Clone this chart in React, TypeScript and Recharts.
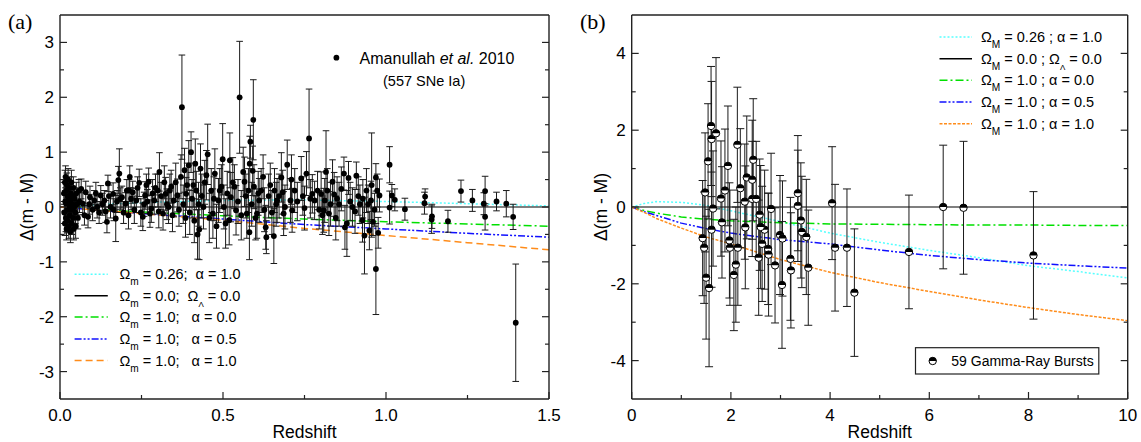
import React from "react";
import { ComposedChart, XAxis, YAxis, Line, Scatter, ErrorBar } from "recharts";

// panel (a): Amanullah et al. 2010 SNe Ia, [redshift, Δ(m - M), error]
const snData: [number, number, number][] = [
  [0.012, 0.25, 0.2], [0.013, -0.1, 0.2], [0.015, 0.45, 0.22], [0.015, -0.3, 0.22], [0.016, 0.1, 0.2],
  [0.017, 0.55, 0.2], [0.018, -0.2, 0.25], [0.019, 0.3, 0.2], [0.02, -0.4, 0.2], [0.02, 0.05, 0.18],
  [0.021, 0.4, 0.22], [0.022, -0.05, 0.2], [0.023, 0.2, 0.2], [0.024, -0.25, 0.22], [0.025, 0.5, 0.2],
  [0.026, 0.0, 0.2], [0.027, -0.35, 0.22], [0.028, 0.15, 0.2], [0.029, 0.35, 0.2], [0.03, -0.15, 0.2],
  [0.031, 0.1, 0.18], [0.032, -0.45, 0.2], [0.033, 0.25, 0.2], [0.034, -0.05, 0.2], [0.035, 0.45, 0.22],
  [0.036, -0.3, 0.2], [0.038, 0.05, 0.2], [0.039, 0.2, 0.18], [0.04, -0.2, 0.2], [0.041, 0.35, 0.2],
  [0.042, -0.4, 0.2], [0.044, 0.0, 0.2], [0.045, 0.15, 0.2], [0.047, -0.1, 0.2], [0.048, -0.35, 0.22],
  [0.05, 0.25, 0.2], [0.052, 0.05, 0.2], [0.055, -0.2, 0.2], [0.058, 0.3, 0.2], [0.06, 0.1, 0.2],
  [0.065, 0.33, 0.18], [0.07, 0.06, 0.2], [0.075, -0.15, 0.18], [0.079, 0.27, 0.2], [0.086, -0.18, 0.2],
  [0.09, 0.05, 0.18], [0.092, 0.18, 0.2], [0.1, -0.05, 0.2], [0.105, 0.12, 0.18], [0.11, 0.25, 0.2],
  [0.114, 0.0, 0.2], [0.12, -0.1, 0.2], [0.125, 0.21, 0.18], [0.13, 0.05, 0.2], [0.136, 0.12, 0.18],
  [0.14, -0.08, 0.2], [0.144, -0.27, 0.2], [0.147, 0.43, 0.15], [0.15, 0.2, 0.2], [0.155, 0.0, 0.2],
  [0.163, 0.24, 0.2], [0.165, -0.05, 0.2], [0.171, -0.21, 0.42], [0.175, 0.1, 0.2], [0.179, 0.49, 0.25],
  [0.182, 0.61, 0.45], [0.185, 0.15, 0.2], [0.19, 0.18, 0.2], [0.195, -0.1, 0.2], [0.201, 0.06, 0.2],
  [0.205, 0.3, 0.2], [0.21, -0.15, 0.25], [0.212, 0.3, 0.2], [0.214, 0.55, 0.2], [0.218, 0.15, 0.2],
  [0.223, 0.27, 0.2], [0.228, -0.05, 0.25], [0.234, 0.12, 0.22], [0.238, 0.35, 0.2], [0.243, 0.44, 0.25],
  [0.248, -0.1, 0.25], [0.254, -0.18, 0.25], [0.258, 0.05, 0.22], [0.261, 0.21, 0.25], [0.265, 0.4, 0.2],
  [0.268, 0.1, 0.22], [0.272, 0.46, 0.25], [0.276, -0.12, 0.25], [0.28, -0.03, 0.25], [0.284, 0.25, 0.25],
  [0.289, 0.12, 0.25], [0.293, 0.35, 0.25], [0.3, 0.3, 0.3], [0.303, -0.08, 0.3], [0.305, 0.64, 0.35],
  [0.31, 0.2, 0.25], [0.316, -0.12, 0.3], [0.32, 0.45, 0.3], [0.324, 0.24, 0.3], [0.328, 0.05, 0.28],
  [0.333, 0.0, 0.3], [0.337, 0.3, 0.3], [0.341, 0.37, 0.3], [0.345, -0.15, 0.3], [0.349, 0.12, 0.3],
  [0.355, 0.45, 0.35], [0.36, 0.21, 0.3], [0.365, -0.05, 0.3],
  [0.371, 0.55, 0.4], [0.374, 1.82, 0.95], [0.378, 0.05, 0.35], [0.382, 0.67, 0.4], [0.385, -0.2, 0.35],
  [0.387, 0.24, 0.3], [0.39, 0.4, 0.4], [0.395, 0.76, 0.45], [0.398, -0.1, 0.4], [0.402, 1.0, 0.37],
  [0.405, 0.15, 0.35], [0.409, 0.4, 0.4], [0.412, -0.25, 0.4], [0.415, 0.79, 0.45], [0.418, 0.3, 0.35],
  [0.422, -0.5, 0.45], [0.425, 0.05, 0.4], [0.427, -0.41, 0.55], [0.431, 0.7, 0.45], [0.435, 0.2, 0.4],
  [0.44, 0.0, 0.4], [0.444, 0.45, 0.4], [0.449, 0.58, 0.45], [0.453, 0.96, 0.55], [0.458, -0.2, 0.45],
  [0.464, 0.3, 0.4], [0.469, -0.12, 0.45], [0.472, 0.15, 0.4], [0.475, 0.61, 0.45], [0.48, -0.35, 0.4],
  [0.486, 0.12, 0.4], [0.49, 0.3, 0.4], [0.495, 0.37, 0.4], [0.499, 0.87, 0.65], [0.503, 0.0, 0.4],
  [0.508, -0.3, 0.45], [0.513, 0.25, 0.4], [0.519, -0.24, 0.45], [0.521, 0.85, 0.5], [0.524, 0.18, 0.45],
  [0.53, 0.45, 0.45], [0.535, 0.37, 0.4], [0.54, -0.06, 0.45], [0.546, 0.1, 0.4], [0.551, 2.0, 1.02],
  [0.556, -0.15, 0.45], [0.562, 0.64, 0.45], [0.566, 0.46, 0.45], [0.57, 0.2, 0.4], [0.573, -0.12, 0.45],
  [0.578, 0.3, 0.4], [0.581, -0.46, 0.5], [0.582, 0.79, 0.5], [0.584, 1.19, 0.3], [0.588, 0.05, 0.4],
  [0.591, 0.66, 0.45], [0.593, 1.59, 0.73], [0.595, 0.37, 0.4], [0.6, -0.2, 0.4], [0.604, -0.12, 0.45],
  [0.608, 0.25, 0.4], [0.611, 0.12, 0.4], [0.617, 0.3, 0.4], [0.623, 0.55, 0.4], [0.627, -0.05, 0.4],
  [0.631, -0.37, 0.4], [0.633, -0.55, 0.3], [0.64, 0.2, 0.4], [0.645, 0.4, 0.4], [0.65, -0.1, 0.4],
  [0.656, -0.53, 0.5], [0.658, 0.3, 0.4], [0.663, 0.05, 0.4], [0.666, 0.12, 0.4], [0.672, 0.2, 0.4],
  [0.679, 0.54, 0.45], [0.683, 0.27, 0.4], [0.686, -0.12, 0.4], [0.69, 0.0, 0.4], [0.697, 0.77, 0.45],
  [0.707, 0.12, 0.4], [0.71, 0.5, 0.45], [0.712, -0.06, 0.4], [0.72, 0.3, 0.4], [0.728, 0.1, 0.35],
  [0.74, 0.52, 0.4], [0.745, 0.2, 0.35], [0.75, -0.02, 0.4], [0.756, 0.61, 0.4], [0.764, 1.25, 0.9],
  [0.768, 0.15, 0.35], [0.774, 0.24, 0.35], [0.781, 0.12, 0.35], [0.79, 0.3, 0.35], [0.795, -0.05, 0.35],
  [0.801, 0.24, 0.4], [0.805, -0.15, 0.35], [0.809, -0.06, 0.4], [0.812, 0.12, 0.4], [0.816, 0.64, 0.75],
  [0.82, 0.3, 0.4], [0.825, -0.12, 0.4], [0.83, 0.05, 0.4], [0.836, 0.46, 0.4], [0.841, 0.23, 0.4],
  [0.846, -0.2, 0.4], [0.85, 0.15, 0.4], [0.856, 0.05, 0.4], [0.863, 0.33, 0.4], [0.871, 0.61, 0.3],
  [0.874, -0.37, 0.4], [0.88, -0.3, 0.6], [0.885, 0.53, 0.3], [0.89, 0.1, 0.35], [0.897, 0.0, 0.35],
  [0.905, -0.08, 0.4], [0.909, 0.57, 0.25], [0.915, 0.2, 0.35], [0.92, 0.05, 0.35], [0.928, -0.24, 0.4],
  [0.929, 0.15, 0.35], [0.934, -0.52, 0.7], [0.94, 0.3, 0.4], [0.945, 0.05, 0.35], [0.949, -0.43, 0.35],
  [0.954, 0.12, 0.35], [0.956, 0.4, 0.95], [0.96, -0.27, 0.25], [0.965, -0.05, 0.3], [0.969, 0.54, 0.25],
  [0.969, -1.13, 0.83], [0.973, 0.3, 0.3], [0.976, -0.47, 0.28], [0.98, 0.21, 0.3],
  [1.011, -0.01, 0.3], [1.011, 0.77, 0.33], [1.018, 0.21, 0.2], [1.027, 0.13, 0.2], [1.058, -0.04, 0.2],
  [1.118, 0.07, 0.2], [1.12, 0.19, 0.14], [1.14, -0.23, 0.25], [1.141, -0.17, 0.22], [1.19, -0.26, 0.2],
  [1.23, 0.29, 0.2], [1.265, 0.12, 0.2], [1.3, 0.06, 0.2], [1.304, 0.29, 0.27], [1.304, -0.18, 0.24],
  [1.339, 0.1, 0.17], [1.369, 0.06, 0.24], [1.39, -0.18, 0.23], [1.398, -2.11, 1.07],
];

// panel (b): 59 gamma-ray bursts, [redshift, Δ(m - M), error]
const grbData: [number, number, number][] = [
  [1.43, -0.81, 1.5], [1.48, 0.38, 1.55], [1.46, -1.06, 1.45], [1.5, -1.84, 1.6], [1.54, 1.19, 1.5],
  [1.56, -2.11, 2.05], [1.6, 2.11, 1.55], [1.61, 1.77, 1.5], [1.61, -0.59, 1.5], [1.64, -0.04, 1.5],
  [1.7, 1.92, 1.97], [1.8, 0.22, 1.5], [1.82, -0.4, 1.45], [1.88, 0.43, 1.6], [1.94, 1.07, 1.56],
  [1.97, -0.87, 1.5], [1.98, -1.06, 1.5], [2.06, -1.77, 1.45], [2.1, -1.5, 1.5], [2.13, 1.62, 1.5],
  [2.14, -1.06, 1.5], [2.19, 0.49, 1.55], [2.29, -0.53, 1.6], [2.28, 0.14, 1.5], [2.32, 0.77, 1.6],
  [2.43, 0.71, 1.55], [2.45, 1.23, 1.59], [2.43, 0.21, 1.5], [2.51, 0.21, 1.5], [2.58, -0.2, 1.45],
  [2.56, -1.32, 1.5], [2.63, -0.96, 1.5], [2.68, -0.59, 1.55], [2.6, -0.52, 1.6], [2.75, -1.09, 1.45],
  [2.76, -1.24, 1.6], [2.81, -0.05, 1.45], [2.89, -1.52, 1.5], [2.99, -0.73, 1.55], [3.04, -0.82, 1.5],
  [3.03, -2.03, 1.65], [3.2, -1.35, 1.6], [3.21, -1.65, 1.5], [3.35, 0.36, 1.5], [3.35, 0.03, 1.45],
  [3.41, -0.35, 1.5], [3.43, -0.65, 1.45], [3.52, -0.78, 1.5], [3.56, -1.58, 1.5], [4.04, 0.1, 1.47],
  [4.1, -1.06, 1.65], [4.34, -1.06, 1.53], [4.49, -2.23, 1.66], [5.59, -1.17, 1.48], [6.28, 0.0, 1.61],
  [6.69, -0.02, 1.73], [8.1, -1.26, 1.66],
];

// model curves, panel (a)
const zA = [0, 0.1, 0.25, 0.5, 0.75, 1.0, 1.25, 1.5];
const aCyan = [0, 0.04, 0.08, 0.12, 0.13, 0.1, 0.06, 0.02];
const aFlat = [0, 0, 0, 0, 0, 0, 0, 0];
const aGreen = [0, -0.04, -0.09, -0.16, -0.22, -0.27, -0.31, -0.35];
const aBlue = [0, -0.05, -0.12, -0.22, -0.32, -0.4, -0.48, -0.55];
const aOrange = [0, -0.05, -0.12, -0.24, -0.39, -0.52, -0.65, -0.78];

// model curves, panel (b)
const zB = [0, 0.25, 0.5, 1, 1.5, 2, 3, 4, 5, 6, 7, 8, 9, 10];
const bCyan = [0, 0.09, 0.14, 0.12, 0.04, -0.1, -0.38, -0.68, -0.92, -1.13, -1.32, -1.53, -1.68, -1.85];
const bFlat = [0, 0, 0, 0, 0, 0, 0, 0, 0, 0, 0, 0, 0, 0];
const bGreen = [0, -0.09, -0.16, -0.26, -0.32, -0.36, -0.41, -0.44, -0.45, -0.46, -0.47, -0.47, -0.48, -0.48];
const bBlue = [0, -0.12, -0.22, -0.42, -0.56, -0.68, -0.85, -0.96, -1.12, -1.26, -1.37, -1.46, -1.53, -1.59];
const bOrange = [0, -0.14, -0.3, -0.55, -0.78, -0.96, -1.37, -1.7, -1.97, -2.2, -2.42, -2.62, -2.8, -2.96];

// axis ticks
const aXTicks = [0, 0.25, 0.5, 0.75, 1.0, 1.25, 1.5];
const aXMajor = [0, 0.5, 1.0, 1.5];
const aYTicks = [-3, -2.5, -2, -1.5, -1, -0.5, 0, 0.5, 1, 1.5, 2, 2.5, 3];
const aYMajor = [-3, -2, -1, 0, 1, 2, 3];
const bXTicks = [0, 1, 2, 3, 4, 5, 6, 7, 8, 9, 10];
const bXMajor = [0, 2, 4, 6, 8, 10];
const bYTicks = [-4, -3, -2, -1, 0, 1, 2, 3, 4];
const bYMajor = [-4, -2, 0, 2, 4];

const snPoints = snData.map(([z, v, err]) => ({ z, v, err }));
const grbPoints = grbData.map(([z, v, err]) => ({ z, v, err }));
const curve = (zs: number[], vs: number[]) => zs.map((z, i) => ({ z, v: vs[i] }));

const SANS = "'Liberation Sans', Arial, sans-serif";
const SERIF = "'Liberation Serif', 'Times New Roman', serif";
const FRAME = "#222";

const CYAN = "#55ffff";
const GREEN = "#00e000";
const BLUE = "#1010ff";
const ORANGE = "#ff8c1a";

type Side = "bottom" | "left" | "top" | "right";

function frameTick(side: Side, majors: number[], fmt?: (v: number) => string) {
  return (props: any) => {
    const { x, y, payload } = props;
    const v = payload.value as number;
    const major = majors.some((m) => Math.abs(m - v) < 1e-6);
    const len = major ? 7 : 4;
    let l = { x1: x, y1: y, x2: x, y2: y };
    if (side === "bottom") l.y2 = y - len;
    if (side === "top") l.y2 = y + len;
    if (side === "left") l.x2 = x + len;
    if (side === "right") l.x2 = x - len;
    return (
      <g>
        <line {...l} stroke={FRAME} strokeWidth={1.2} />
        {fmt && major && side === "bottom" && (
          <text x={x} y={y + 22} textAnchor="middle" fontFamily={SANS} fontSize={17} fill="#000">
            {fmt(v)}
          </text>
        )}
        {fmt && major && side === "left" && (
          <text x={x - 6} y={y + 6} textAnchor="end" fontFamily={SANS} fontSize={17} fill="#000">
            {fmt(v)}
          </text>
        )}
      </g>
    );
  };
}

function frameAxes(
  xDomain: number[], xTicks: number[], xMajor: number[], xFmt: (v: number) => string,
  yDomain: number[], yTicks: number[], yMajor: number[], yFmt: (v: number) => string
) {
  const common = { type: "number" as const, allowDataOverflow: true, interval: 0, tickSize: 0, tickMargin: 0, tickLine: false,
    axisLine: { stroke: FRAME, strokeWidth: 1.4 } };
  return [
    <XAxis key="xb" {...common} dataKey="z" domain={xDomain} ticks={xTicks} height={30} tick={frameTick("bottom", xMajor, xFmt)} />,
    <XAxis key="xt" {...common} xAxisId="top" orientation="top" domain={xDomain} ticks={xTicks} height={10} tick={frameTick("top", xMajor)} />,
    <YAxis key="yl" {...common} dataKey="v" domain={yDomain} ticks={yTicks} width={40} tick={frameTick("left", yMajor, yFmt)} />,
    <YAxis key="yr" {...common} yAxisId="right" orientation="right" domain={yDomain} ticks={yTicks} width={10} tick={frameTick("right", yMajor)} />,
  ];
}

const HalfDot = (props: any) => {
  const { cx, cy } = props;
  const r = 3.7;
  return (
    <g>
      <circle cx={cx} cy={cy} r={r} fill="#fff" stroke="#000" strokeWidth={1} />
      <path d={`M${cx - r},${cy} A${r},${r} 0 0 1 ${cx + r},${cy} Z`} fill="#000" />
    </g>
  );
};

const FullDot = (props: any) => <circle cx={props.cx} cy={props.cy} r={2.9} fill="#000" />;

// legend label: text pieces flow naturally, {sub} pieces drop as subscripts
type Piece = string | { sub: string };
function ModelLabel({ x, y, size, pieces }: { x: number; y: number; size: number; pieces: Piece[] }) {
  let low = false;
  const spans = pieces.map((p, i) => {
    if (typeof p === "string") {
      const dy = low ? -6 : 0;
      low = false;
      return <tspan key={i} dy={dy}>{p}</tspan>;
    }
    low = true;
    return <tspan key={i} dy={6} fontSize={size * (p.sub === "Λ" ? 0.55 : 0.7)}>{p.sub}</tspan>;
  });
  return (
    <text x={x} y={y} fontFamily={SANS} fontSize={size} fill="#000" style={{ whiteSpace: "pre" }}>
      {spans}
    </text>
  );
}

const lineStyles = [
  { color: CYAN, dash: "2 2" },
  { color: "#000", dash: undefined },
  { color: GREEN, dash: "8 3 2 3" },
  { color: BLUE, dash: "7 2 2 2 2 2" },
];

const labelsA: Piece[][] = [
  ["Ω", { sub: "m" }, " = 0.26;  α = 1.0"],
  ["Ω", { sub: "m" }, " = 0.0;  Ω", { sub: "Λ" }, " = 0.0"],
  ["Ω", { sub: "m" }, " = 1.0;   α = 0.0"],
  ["Ω", { sub: "m" }, " = 1.0;   α = 0.5"],
  ["Ω", { sub: "m" }, " = 1.0;   α = 1.0"],
];
const labelsB: Piece[][] = [
  ["Ω", { sub: "M" }, " = 0.26 ; α = 1.0"],
  ["Ω", { sub: "M" }, " = 0.0 ; Ω", { sub: "Λ" }, " = 0.0"],
  ["Ω", { sub: "M" }, " = 1.0 ; α = 0.0"],
  ["Ω", { sub: "M" }, " = 1.0 ; α = 0.5"],
  ["Ω", { sub: "M" }, " = 1.0 ; α = 1.0"],
];

export default function App() {
  const legendA = [274.3, 295.7, 317, 339, 360.5];
  const legendB = [37, 58.7, 80.3, 102, 123.7];
  const dashA = [...lineStyles, { color: ORANGE, dash: "7 4" }];
  const dashB = [...lineStyles, { color: ORANGE, dash: "3 1.5" }];

  return (
    <div style={{ position: "absolute", left: 0, top: 0, width: 1141, height: 442, background: "#fff" }}>
      {/* (a) SNe Ia */}
      <div style={{ position: "absolute", left: 0, top: 0 }}>
        <ComposedChart width={575} height={442} margin={{ top: 5, right: 16, bottom: 13, left: 20 }}>
          {frameAxes([0, 1.5], aXTicks, aXMajor, (v) => v.toFixed(1), [-3.5, 3.5], aYTicks, aYMajor, (v) => String(v))}
          <Line data={curve(zA, aCyan)} dataKey="v" stroke={CYAN} strokeWidth={1.5} strokeDasharray="2 2" dot={false} isAnimationActive={false} />
          <Line data={curve(zA, aFlat)} dataKey="v" stroke="#000" strokeWidth={1.2} dot={false} isAnimationActive={false} />
          <Line data={curve(zA, aGreen)} dataKey="v" stroke={GREEN} strokeWidth={1.5} strokeDasharray="8 3 2 3" dot={false} isAnimationActive={false} />
          <Line data={curve(zA, aBlue)} dataKey="v" stroke={BLUE} strokeWidth={1.5} strokeDasharray="7 2 2 2 2 2" dot={false} isAnimationActive={false} />
          <Line data={curve(zA, aOrange)} dataKey="v" stroke={ORANGE} strokeWidth={1.5} strokeDasharray="7 4" dot={false} isAnimationActive={false} />
          <Scatter data={snPoints} dataKey="v" shape={FullDot} isAnimationActive={false}>
            <ErrorBar dataKey="err" direction="y" width={3.3} stroke="#1a1a1a" strokeWidth={1} />
          </Scatter>

          <text x={8} y={29} fontFamily={SERIF} fontSize={22} fill="#000">(a)</text>
          <text transform="translate(33,207) rotate(-90)" textAnchor="middle" fontFamily={SANS} fontSize={17.5} fill="#000">Δ(m - M)</text>
          <text x={304.5} y={438} textAnchor="middle" fontFamily={SANS} fontSize={17.5} fill="#000">Redshift</text>

          <circle cx={336.4} cy={57.7} r={2.9} fill="#000" />
          <text x={359.6} y={63.5} fontFamily={SANS} fontSize={16} fill="#000">
            Amanullah <tspan fontStyle="italic">et al.</tspan> 2010
          </text>
          <text x={383} y={86} fontFamily={SANS} fontSize={14.5} fill="#000">(557 SNe Ia)</text>

          {legendA.map((y, i) => (
            <line key={i} x1={74.6} x2={107.8} y1={y} y2={y} stroke={dashA[i].color} strokeWidth={1.5} strokeDasharray={dashA[i].dash} />
          ))}
          {labelsA.map((pieces, i) => (
            <ModelLabel key={i} x={119.5} y={legendA[i] + 5} size={14.5} pieces={pieces} />
          ))}
        </ComposedChart>
      </div>

      {/* (b) gamma-ray bursts */}
      <div style={{ position: "absolute", left: 575, top: 0 }}>
        <ComposedChart width={566} height={442} margin={{ top: 5, right: 3.3, bottom: 13, left: 16.7 }}>
          {frameAxes([0, 10], bXTicks, bXMajor, (v) => String(v), [-5, 5], bYTicks, bYMajor, (v) => String(v))}
          <Line data={curve(zB, bCyan)} dataKey="v" stroke={CYAN} strokeWidth={1.5} strokeDasharray="2 2" dot={false} isAnimationActive={false} />
          <Line data={curve(zB, bFlat)} dataKey="v" stroke="#000" strokeWidth={1.2} dot={false} isAnimationActive={false} />
          <Line data={curve(zB, bGreen)} dataKey="v" stroke={GREEN} strokeWidth={1.5} strokeDasharray="8 3 2 3" dot={false} isAnimationActive={false} />
          <Line data={curve(zB, bBlue)} dataKey="v" stroke={BLUE} strokeWidth={1.5} strokeDasharray="7 2 2 2 2 2" dot={false} isAnimationActive={false} />
          <Line data={curve(zB, bOrange)} dataKey="v" stroke={ORANGE} strokeWidth={1.5} strokeDasharray="3 1.5" dot={false} isAnimationActive={false} />
          <Scatter data={grbPoints} dataKey="v" shape={HalfDot} isAnimationActive={false}>
            <ErrorBar dataKey="err" direction="y" width={4} stroke="#1a1a1a" strokeWidth={1} />
          </Scatter>

          <text x={5} y={29} fontFamily={SERIF} fontSize={22} fill="#000">(b)</text>
          <text transform="translate(32,207) rotate(-90)" textAnchor="middle" fontFamily={SANS} fontSize={17.5} fill="#000">Δ(m - M)</text>
          <text x={304.7} y={438} textAnchor="middle" fontFamily={SANS} fontSize={17.5} fill="#000">Redshift</text>

          {legendB.map((y, i) => (
            <line key={i} x1={364.5} x2={397} y1={y} y2={y} stroke={dashB[i].color} strokeWidth={1.5} strokeDasharray={dashB[i].dash} />
          ))}
          {labelsB.map((pieces, i) => (
            <ModelLabel key={i} x={406} y={legendB[i] + 5} size={14.5} pieces={pieces} />
          ))}

          <rect x={340.5} y={347.7} width={183.3} height={26.3} fill="#fff" stroke="#222" strokeWidth={1.2} />
          <HalfDot cx={357.7} cy={361} />
          <text x={376.3} y={366} fontFamily={SANS} fontSize={14} fill="#000">59 Gamma-Ray Bursts</text>
        </ComposedChart>
      </div>
    </div>
  );
}
